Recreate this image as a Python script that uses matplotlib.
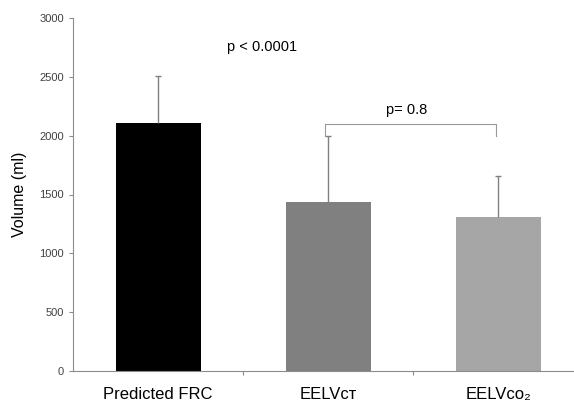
import numpy as np
import matplotlib.pyplot as plt

plt.rcParams["font.family"] = ["Liberation Sans", "DejaVu Sans"]

# data
labels = ["Predicted FRC", "EELVᴄᴛ", "EELVᴄᴏ₂"]
means = [2110, 1440, 1310]
sds = [395, 555, 350]
colors = ["#000000", "#808080", "#a6a6a6"]
yticks = [0, 500, 1000, 1500, 2000, 2500, 3000]
p_all = "p < 0.0001"
p_pair = "p= 0.8"
bracket_y = [2000, 2100]

axis_grey = "#8c8c8c"

fig = plt.figure(figsize=(5.74, 4.04), dpi=100)
ax = fig.add_axes([73 / 574, 33 / 404, 1 - 73 / 574, 353 / 404])

x = np.arange(len(labels))
ax.bar(x, means, width=0.5, color=colors, zorder=2)
# upper error bars only
_, caps, _ = ax.errorbar(x, means, yerr=[np.zeros(len(sds)), sds], fmt="none",
                         ecolor="#808080", elinewidth=1, capsize=2,
                         capthick=1, zorder=3)
caps[0].set_visible(False)

ax.set_xlim(-0.5, 2.447)
ax.set_ylim(0, 3000)
ax.set_yticks(yticks)
ax.set_yticklabels([str(v) for v in yticks], fontsize=8, color="#404040")
ax.set_ylabel("Volume (ml)", fontsize=11.5)
ax.yaxis.set_label_coords(-0.092, 0.5)

# category labels, ticks sit between categories
ax.set_xticks([0.5, 1.5])
ax.set_xticklabels([])
ax.tick_params(axis="both", direction="out", length=3, color=axis_grey, width=0.8)
for xi, lab in zip(x, labels):
    ax.annotate(lab, xy=(xi, 0), xycoords=("data", "axes fraction"),
                xytext=(0, -17), textcoords="offset points",
                ha="center", va="center", fontsize=12)

for side in ["top", "right"]:
    ax.spines[side].set_visible(False)
for side in ["left", "bottom"]:
    ax.spines[side].set_color(axis_grey)
    ax.spines[side].set_linewidth(0.8)

# significance annotations
ax.text(0.61, 2753, p_all, ha="center", va="center", fontsize=10.5)
bx = [x[1] - 0.02, x[1] - 0.02, x[2] - 0.01, x[2] - 0.01]
by = [bracket_y[0], bracket_y[1], bracket_y[1], bracket_y[0]]
ax.plot(bx, by, color="#999999", lw=0.8, zorder=4)
ax.text(1.465, 2218, p_pair, ha="center", va="center", fontsize=10.5)

fig.savefig("out.png", dpi=100)
